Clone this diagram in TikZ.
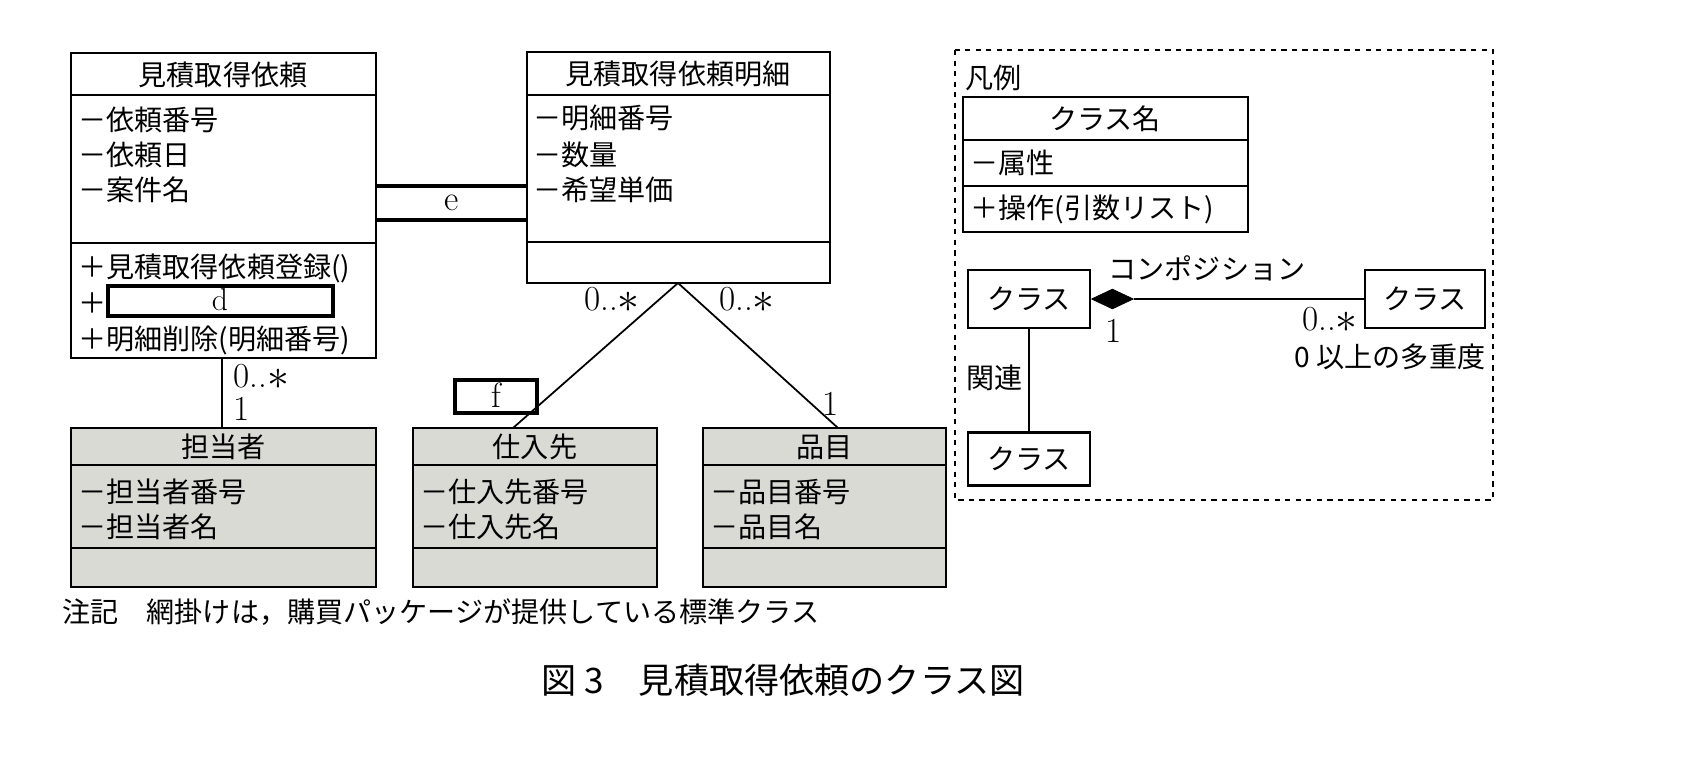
\documentclass[tikz,border=0pt]{standalone}
\usepackage{fontspec}
\newfontfamily\jp{Noto Sans CJK JP}
\usetikzlibrary{shapes.geometric}
\definecolor{shade}{RGB}{218,218,212}
\newcommand{\many}{0..\raisebox{-0.15ex}{\fontsize{26}{26}\selectfont$\ast$}}
\tikzset{
  txt/.style={font=\jp\fontsize{16}{18}\selectfont, inner sep=0pt, anchor=west},
  lbl/.style={font=\fontsize{20}{22}\selectfont, inner sep=0pt},
  box/.style={draw, line width=1.2pt},
  link/.style={line width=1pt},
}
\begin{document}
\begin{tikzpicture}[x=0.02cm, y=-0.02cm]
\useasboundingbox (0,0) rectangle (1698,774);
%%%% class: request
\draw[box] (71,53) rectangle (376,358);
\draw[box] (71,95) -- (376,95);
\draw[box] (71,243) -- (376,243);
\node[txt, anchor=center] (req) at (223,75) {見積取得依頼};
\node[txt] at (78,120) {－依頼番号};
\node[txt] at (78,155) {－依頼日};
\node[txt] at (78,190) {－案件名};
\node[txt] at (78,268) {＋見積取得依頼登録()};
\node[txt] at (78,303) {＋};
\node[txt] at (78,340) {＋明細削除(明細番号)};
\draw[box, line width=2pt] (108,286) rectangle (333,316);
\node[lbl, font=\fontsize{18}{20}\selectfont] (d) at (220,300) {d};
%%%% class: detail
\draw[box] (527,52) rectangle (830,283);
\draw[box] (527,95) -- (830,95);
\draw[box] (527,242) -- (830,242);
\node[txt, anchor=center] (det) at (678,74) {見積取得依頼明細};
\node[txt] at (533,118) {－明細番号};
\node[txt] at (533,155) {－数量};
\node[txt] at (533,190) {－希望単価};
%%%% blank e
\draw[line width=2.2pt] (376,186) -- (527,186);
\draw[line width=2.2pt] (376,220) -- (527,220);
\node[lbl] (e) at (452,203) {e};
%%%% shaded classes
\foreach \x/\w/\n/\a/\b in {71/305/担当者/担当者番号/担当者名,
                            413/244/仕入先/仕入先番号/仕入先名,
                            703/243/品目/品目番号/品目名}{
  \draw[box, fill=shade] (\x,428) rectangle ++(\w,159);
  \draw[box] (\x,465) -- ++(\w,0);
  \draw[box] (\x,548) -- ++(\w,0);
  \node[txt, anchor=center] at (\x+\w/2,447) {\n};
  \node[txt] at (\x+7,492) {－\a};
  \node[txt] at (\x+7,527) {－\b};
}
%%%% associations
\coordinate (reqB) at (222,358);
\coordinate (staffT) at (222,428);
\coordinate (detB) at (678,283);
\coordinate (supT) at (513,428);
\coordinate (itemT) at (838,428);
\draw[link] (reqB) -- (staffT);
\draw[link] (detB) -- (supT);
\draw[link] (detB) -- (itemT);
\node[lbl, anchor=west] at (233,377) {\many};
\node[lbl, anchor=west] at (233,409) {1};
\node[lbl] at (612,300) {\many};
\node[lbl] at (747,300) {\many};
\node[lbl] at (831,404) {1};
%%%% blank f
\draw[box, line width=2pt] (455,380) rectangle (537,413);
\node[lbl] (f) at (496,395) {f};
%%%% legend
\draw[dashed, line width=0.8pt] (955,50) rectangle (1493,500);
\node[txt] at (965,78) {凡例};
\draw[box] (963,97) rectangle (1248,232);
\draw[box] (963,140) -- (1248,140);
\draw[box] (963,186) -- (1248,186);
\node[txt, anchor=center] at (1105,119) {クラス名};
\node[txt] at (970,163) {－属性};
\node[txt] at (970,209) {＋操作(引数リスト)};
\node[box, txt, anchor=center, minimum width=122*0.02cm, minimum height=58*0.02cm] (c1) at (1029,299) {クラス};
\node[box, txt, anchor=center, minimum width=120*0.02cm, minimum height=58*0.02cm] (c2) at (1425,299) {クラス};
\node[box, txt, anchor=center, minimum width=122*0.02cm, minimum height=53*0.02cm] (c3) at (1029,459) {クラス};
\node[diamond, fill=black, draw, inner sep=0pt, minimum width=42*0.02cm, minimum height=20*0.02cm, anchor=west] (dia) at (c1.east) {};
\draw[link] (dia.east) -- (c2.west);
\draw[link] (c1.south) -- (c3.north);
\node[txt, anchor=center] at (1207,268) {コンポジション};
\node[lbl] at (1114,331) {1};
\node[lbl] at (1330,320) {\many};
\node[txt, anchor=center] at (1390,357) {0 以上の多重度};
\node[txt] at (966,378) {関連};
%%%% note and caption
\node[txt] at (62,612) {注記　網掛けは，購買パッケージが提供している標準クラス};
\node[txt, anchor=center, font=\jp\fontsize{20}{22}\selectfont] at (783,680) {図 3　見積取得依頼のクラス図};
\end{tikzpicture}
\end{document}
